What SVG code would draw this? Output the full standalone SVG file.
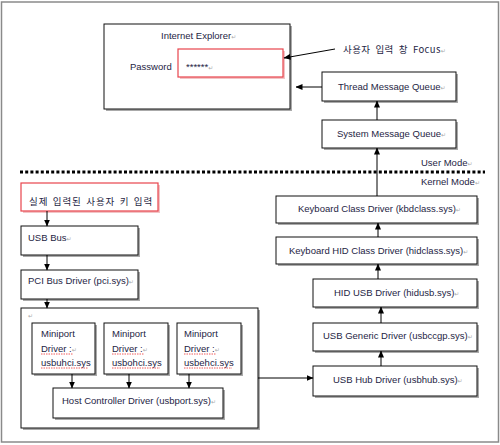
<svg xmlns="http://www.w3.org/2000/svg" width="500" height="445" viewBox="0 0 500 445">
<defs>
<marker id="ah" markerWidth="7" markerHeight="6" refX="6.5" refY="3" orient="auto" markerUnits="userSpaceOnUse">
<path d="M0,0 L7,3 L0,6 Z" fill="#000"/>
</marker>
<style>
.t{font-family:"Liberation Sans","Noto Sans CJK KR",sans-serif;font-size:9.5px;fill:#1e1e44}
.k{font-family:"Noto Sans CJK KR","Liberation Sans",sans-serif;font-size:9.5px;fill:#1e1e44}
.p{fill:#aaa;font-family:"DejaVu Sans",sans-serif;font-size:6px}
.b{fill:#fff;stroke:#111;stroke-width:1}
.r{fill:#fff;stroke:#e8444c;stroke-width:1.2}
.sh{fill:#aaa}
.shr{fill:#f2c4c6}
.c{stroke:#000;stroke-width:1;fill:none;marker-end:url(#ah)}
.sq{stroke:#e33;stroke-width:0.8;fill:none;stroke-dasharray:1.5 1}
</style>
</defs>
<rect x="1.5" y="2" width="497" height="440" fill="#fff" stroke="#8a8a8a" stroke-width="1.5"/>

<g id="ie">
<rect class="sh" x="106" y="26" width="186" height="85"/>
<rect class="b" x="104" y="24" width="186" height="85"/>
<text class="t" x="161" y="39">Internet Explorer<tspan class="p">↵</tspan></text>
<text class="t" x="130" y="70">Password</text>
</g>
<g id="pw">
<rect class="shr" x="180" y="51" width="105" height="28"/>
<rect class="r" x="178" y="49" width="105" height="28"/>
<text class="t" x="186" y="70">******<tspan class="p">↵</tspan></text>
</g>
<g id="focus">
<text class="k" x="343" y="53" letter-spacing="0.4" word-spacing="2.5">사용자 입력 창 Focus<tspan class="p">↵</tspan></text>
</g>
<g id="tmq">
<rect class="sh" x="324" y="74" width="134" height="29"/>
<rect class="b" x="322" y="72" width="134" height="29"/>
<text class="t" x="338" y="90">Thread Message Queue<tspan class="p">↵</tspan></text>
</g>
<g id="smq">
<rect class="sh" x="324" y="122" width="134" height="28"/>
<rect class="b" x="322" y="120" width="134" height="28"/>
<text class="t" x="337" y="137">System Message Queue<tspan class="p">↵</tspan></text>
</g>
<g id="modes">
<line x1="20" y1="172" x2="485" y2="172" stroke="#000" stroke-width="3" stroke-dasharray="3 2.2"/>
<text class="t" x="421" y="166">User Mode<tspan class="p">↵</tspan></text>
<text class="t" x="421" y="185">Kernel Mode<tspan class="p">↵</tspan></text>
</g>
<g id="real">
<rect class="shr" x="23" y="185" width="137" height="28"/>
<rect class="r" x="21" y="183" width="137" height="28"/>
<text class="k" x="29" y="205" letter-spacing="0.9" word-spacing="1.5">실제 입력된 사용자 키 입력</text>
</g>
<g id="usbbus">
<rect class="sh" x="23" y="228" width="117" height="29"/>
<rect class="b" x="21" y="226" width="117" height="29"/>
<text class="t" x="28" y="241">USB Bus<tspan class="p">↵</tspan></text>
</g>
<g id="pci">
<rect class="sh" x="23" y="272" width="117" height="29"/>
<rect class="b" x="21" y="270" width="117" height="29"/>
<text class="t" x="28" y="284">PCI Bus Driver (pci.sys)<tspan class="p">↵</tspan></text>
</g>
<g id="hcbox">
<rect class="sh" x="23" y="310" width="237" height="120"/>
<rect class="b" x="21" y="308" width="237" height="120"/>
<text class="p" x="28" y="318">↵</text>
</g>
<g id="mp1">
<rect class="sh" x="34" y="325" width="63" height="51"/>
<rect class="b" x="32" y="323" width="63" height="51"/>
<text class="t" x="41" y="337">Miniport</text>
<text class="t" x="41" y="352">Driver :<tspan class="p">↵</tspan></text>
<text class="t" x="41" y="366">usbuhci.sys</text>
<path class="sq" d="M41,354 H73 M41,368 H88"/>
</g>
<g id="mp2">
<rect class="sh" x="106" y="325" width="64" height="51"/>
<rect class="b" x="104" y="323" width="64" height="51"/>
<text class="t" x="112" y="337">Miniport</text>
<text class="t" x="112" y="352">Driver :<tspan class="p">↵</tspan></text>
<text class="t" x="112" y="366">usbohci.sys</text>
<path class="sq" d="M112,354 H144 M112,368 H160"/>
</g>
<g id="mp3">
<rect class="sh" x="179" y="325" width="64" height="51"/>
<rect class="b" x="177" y="323" width="64" height="51"/>
<text class="t" x="184" y="337">Miniport</text>
<text class="t" x="184" y="352">Driver :<tspan class="p">↵</tspan></text>
<text class="t" x="184" y="366">usbehci.sys</text>
<path class="sq" d="M184,354 H216 M184,368 H232"/>
</g>
<g id="hcd">
<rect class="sh" x="55" y="390" width="170" height="30"/>
<rect class="b" x="53" y="388" width="170" height="30"/>
<text class="t" x="62" y="404">Host Controller Driver (usbport.sys)<tspan class="p">↵</tspan></text>
</g>
<g id="kcd">
<rect class="sh" x="278" y="198" width="201" height="27"/>
<rect class="b" x="276" y="196" width="201" height="27"/>
<text class="t" x="298" y="212">Keyboard Class Driver (kbdclass.sys)<tspan class="p">↵</tspan></text>
</g>
<g id="khid">
<rect class="sh" x="278" y="239" width="201" height="27"/>
<rect class="b" x="276" y="237" width="201" height="27"/>
<text class="t" x="289" y="254">Keyboard HID Class Driver (hidclass.sys)<tspan class="p">↵</tspan></text>
</g>
<g id="hidusb">
<rect class="sh" x="315" y="281" width="164" height="28"/>
<rect class="b" x="313" y="279" width="164" height="28"/>
<text class="t" x="334" y="296">HID USB Driver (hidusb.sys)<tspan class="p">↵</tspan></text>
</g>
<g id="generic">
<rect class="sh" x="315" y="325" width="164" height="28"/>
<rect class="b" x="313" y="323" width="164" height="28"/>
<text class="t" x="323" y="339">USB Generic Driver (usbccgp.sys)<tspan class="p">↵</tspan></text>
</g>
<g id="hub">
<rect class="sh" x="315" y="368" width="164" height="30"/>
<rect class="b" x="313" y="366" width="164" height="30"/>
<text class="t" x="333" y="383">USB Hub Driver (usbhub.sys)<tspan class="p">↵</tspan></text>
</g>

<g id="connectors">
<line class="c" x1="335" y1="49" x2="284" y2="58"/>
<line class="c" x1="322" y1="87" x2="296" y2="87"/>
<line class="c" x1="377" y1="120" x2="377" y2="101"/>
<line class="c" x1="377" y1="196" x2="377" y2="148"/>
<line class="c" x1="378" y1="237" x2="378" y2="223"/>
<line class="c" x1="378" y1="279" x2="378" y2="264"/>
<line class="c" x1="381" y1="323" x2="381" y2="307"/>
<line class="c" x1="381" y1="366" x2="381" y2="351"/>
<line class="c" x1="258" y1="378" x2="313" y2="378"/>
<line class="c" x1="47" y1="211" x2="47" y2="226"/>
<line class="c" x1="47" y1="255" x2="47" y2="270"/>
<line class="c" x1="47" y1="299" x2="47" y2="308"/>
<line class="c" x1="72" y1="374" x2="72" y2="388"/>
<line class="c" x1="129" y1="374" x2="129" y2="388"/>
<line class="c" x1="189" y1="374" x2="189" y2="388"/>
</g>
</svg>
